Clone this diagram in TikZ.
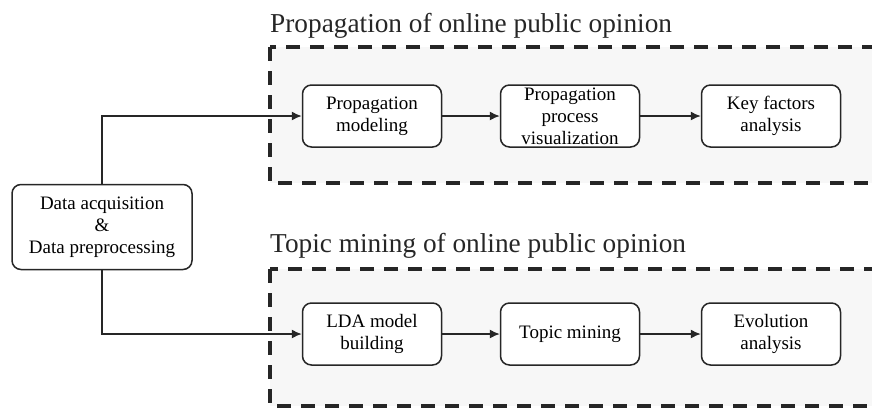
\documentclass[tikz,border=0pt]{standalone}
\usepackage{fontspec}
\setmainfont{Liberation Serif}
\usetikzlibrary{arrows.meta, positioning}

\begin{document}
\begin{tikzpicture}[x=1pt, y=-1pt,
        stepbox/.style={rectangle, draw=black!85, fill=white, line width=1.5pt, minimum width=139pt, minimum height=62pt, align=center, rounded corners=9pt, inner sep=0pt, font=\fontsize{19}{22}\selectfont},
        groupbox/.style={draw=black!85, fill=black!3, line width=3.2pt, dash pattern=on 14pt off 10pt},
        grouptitle/.style={anchor=base west, inner sep=0pt, text=black!85, font=\fontsize{27.3}{30}\selectfont},
        link/.style={draw=black!85, line width=1.4pt, -{Latex[length=10pt, width=9pt]}}]

      \useasboundingbox (0,0) rectangle (872,408);

      % 1. Dashed group boxes (Background)
      \draw[groupbox] (270,47) rectangle (905,183);
      \node[grouptitle] (title1) at (270,32) {Propagation of online public opinion};
      \draw[groupbox] (270,269) rectangle (905,406);
      \node[grouptitle] (title2) at (270,252) {Topic mining of online public opinion};

      % 2. Input box
      \node [stepbox, minimum width=180pt, minimum height=85pt] (data) at (102,227) {Data acquisition\\\&\\Data preprocessing};

      % 3. Propagation row
      \node [stepbox] (model) at (372,116) {Propagation\\modeling};
      \node [stepbox] (vis) at (570,116) {Propagation\\process\\visualization};
      \node [stepbox] (key) at (771,116) {Key factors\\analysis};

      % 4. Topic row
      \node [stepbox] (lda) at (372,334) {LDA model\\building};
      \node [stepbox] (topic) at (570,334) {Topic mining};
      \node [stepbox] (evo) at (771,334) {Evolution\\analysis};

      % 5. Draw Connections
      \draw [link] (data.north) |- (model.west);
      \draw [link] (data.south) |- (lda.west);

      \draw [link] (model) -- (vis);
      \draw [link] (vis) -- (key);

      \draw [link] (lda) -- (topic);
      \draw [link] (topic) -- (evo);
    \end{tikzpicture}
\end{document}
